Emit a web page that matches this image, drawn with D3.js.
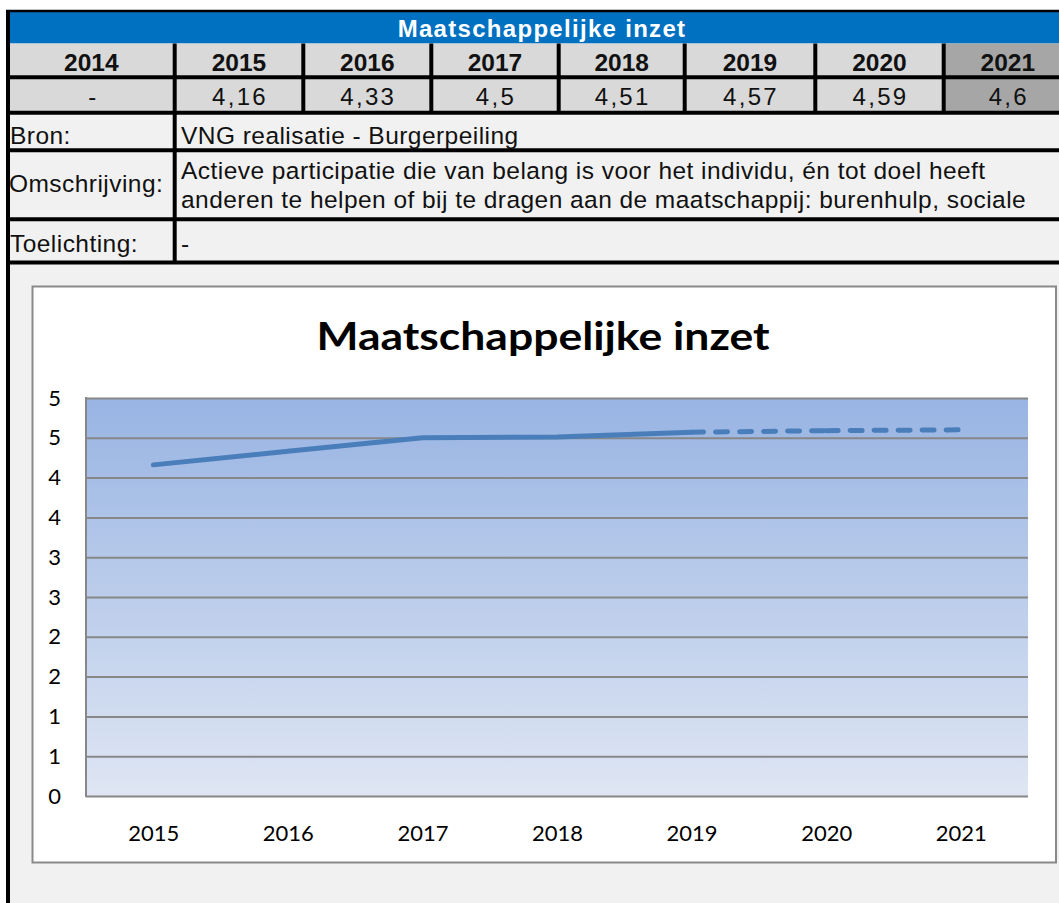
<!DOCTYPE html>
<html><head><meta charset="utf-8">
<script src="https://cdn.jsdelivr.net/npm/d3@7"></script>
<style>
  html,body{margin:0;padding:0;background:#fff;}
  svg{display:block;}
</style>
</head><body>
<svg id="c" width="1059" height="903"></svg>
<script>
// ---------- data ----------
const tableTitle = "Maatschappelijke inzet";
const chartTitle = "Maatschappelijke inzet";
const tableYears = [2014, 2015, 2016, 2017, 2018, 2019, 2020, 2021];
const tableValues = [null, 4.16, 4.33, 4.5, 4.51, 4.57, 4.59, 4.6];
const infoLabels = ["Bron:", "Omschrijving:", "Toelichting:"];
const bronText = "VNG realisatie - Burgerpeiling";
const omschrijvingLines = [
  "Actieve participatie die van belang is voor het individu, én tot doel heeft",
  "anderen te helpen of bij te dragen aan de maatschappij: burenhulp, sociale"
];
const toelichtingText = "-";
const chartYears = [2015, 2016, 2017, 2018, 2019, 2020, 2021];
const chartValues = [4.16, 4.33, 4.5, 4.51, 4.57, 4.59, 4.6];
const dashedFromYear = 2019;
const yTickValues = [0, 0.5, 1, 1.5, 2, 2.5, 3, 3.5, 4, 4.5, 5];
const yTickLabels = ["0", "1", "1", "2", "2", "3", "3", "4", "4", "5", "5"];

// ---------- drawing ----------
const svg = d3.select("#c");
const W = 1059, H = 903;
const tableFont = "'Liberation Sans', Arial, sans-serif";
const chartFont = "Lato, 'Open Sans', sans-serif";

svg.append("rect").attr("x", 0).attr("y", 0).attr("width", W).attr("height", H).attr("fill", "#ffffff");
svg.append("rect").attr("x", 8).attr("y", 11).attr("width", W).attr("height", H).attr("fill", "#f1f1f1");

// table columns (layout)
const colEdges = [8, 174.7, 303.3, 431.3, 558.7, 684.7, 815.3, 943.7, 1072];
const colX = d3.scaleOrdinal().domain(tableYears).range(colEdges.slice(0, -1));
const colW = y => colEdges[tableYears.indexOf(y) + 1] - colEdges[tableYears.indexOf(y)];

// header
svg.append("rect").attr("x", 8).attr("y", 11).attr("width", W).attr("height", 32.5).attr("fill", "#0070c0");
svg.append("text").attr("x", 542).attr("y", 36.5).attr("text-anchor", "middle")
  .attr("font-family", tableFont).attr("font-weight", "bold").attr("font-size", 24)
  .attr("letter-spacing", 1.3).attr("fill", "#ffffff").text(tableTitle);

// years row + values row
const rows = svg.append("g");
tableYears.forEach((yr, i) => {
  const x0 = colX(yr), w = colW(yr);
  const fill = i === tableYears.length - 1 ? "#a6a6a6" : "#d9d9d9";
  rows.append("rect").attr("x", x0).attr("y", 43.5).attr("width", w).attr("height", 69.3).attr("fill", fill);
  rows.append("text").attr("x", x0 + w / 2).attr("y", 70.7).attr("text-anchor", "middle")
    .attr("font-family", tableFont).attr("font-weight", "bold").attr("font-size", 24.5)
    .attr("fill", "#111").text(yr);
  const v = tableValues[i];
  rows.append("text").attr("x", x0 + w / 2 + 1).attr("y", 105).attr("text-anchor", "middle")
    .attr("font-family", tableFont).attr("font-size", 24).attr("letter-spacing", v == null ? 0 : 2.3)
    .attr("fill", "#111").text(v == null ? "-" : String(v).replace(".", ","));
});

// info rows text
const info = svg.append("g").attr("font-family", tableFont).attr("font-size", 24.5)
  .attr("letter-spacing", 0.45).attr("fill", "#111");
info.append("text").attr("x", 10).attr("y", 144).text(infoLabels[0]);
info.append("text").attr("x", 9).attr("y", 192).text(infoLabels[1]);
info.append("text").attr("x", 10).attr("y", 252).text(infoLabels[2]);
info.append("text").attr("x", 181).attr("y", 144).text(bronText);
info.append("text").attr("x", 181).attr("y", 179).text(omschrijvingLines[0]);
info.append("text").attr("x", 181).attr("y", 208).text(omschrijvingLines[1]);
info.append("text").attr("x", 181).attr("y", 252).text(toelichtingText);

// grid lines of the table
const lines = svg.append("g").attr("stroke", "#000");
lines.append("line").attr("x1", 6).attr("x2", W).attr("y1", 11).attr("y2", 11).attr("stroke-width", 2.5);
[77.2, 112.8, 150.3, 219.3, 262.5].forEach(y => {
  lines.append("line").attr("x1", 6).attr("x2", W).attr("y1", y).attr("y2", y).attr("stroke-width", 4);
});
colEdges.slice(1, -1).forEach(x => {
  lines.append("line").attr("x1", x).attr("x2", x).attr("y1", 43.5).attr("y2", 113).attr("stroke-width", 4);
});
lines.append("line").attr("x1", colEdges[1]).attr("x2", colEdges[1]).attr("y1", 112).attr("y2", 263).attr("stroke-width", 4);
lines.append("line").attr("x1", 8).attr("x2", 8).attr("y1", 10).attr("y2", H).attr("stroke-width", 4);

// ---------- chart ----------
svg.append("rect").attr("x", 32.5).attr("y", 286.5).attr("width", 1023.5).attr("height", 576)
  .attr("fill", "#ffffff").attr("stroke", "#898989").attr("stroke-width", 2);

svg.append("text").attr("x", 543).attr("y", 350).attr("text-anchor", "middle")
  .attr("font-family", chartFont).attr("font-weight", "bold").attr("font-size", 39)
  .attr("textLength", 453).attr("lengthAdjust", "spacingAndGlyphs")
  .attr("fill", "#000").text(chartTitle);

const plot = {l: 86, r: 1028, t: 398, b: 796};
const x = d3.scalePoint().domain(chartYears).range([plot.l, plot.r]).padding(0.5);
const y = d3.scaleLinear().domain([0, 5]).range([plot.b, plot.t]);

const defs = svg.append("defs");
const grad = defs.append("linearGradient").attr("id", "pg").attr("x1", 0).attr("y1", 0).attr("x2", 0).attr("y2", 1);
grad.append("stop").attr("offset", "0%").attr("stop-color", "#98b4e3");
grad.append("stop").attr("offset", "100%").attr("stop-color", "#dfe6f3");

svg.append("rect").attr("x", plot.l).attr("y", plot.t).attr("width", plot.r - plot.l).attr("height", plot.b - plot.t)
  .attr("fill", "url(#pg)");

// gridlines
const grid = svg.append("g").attr("transform", `translate(${plot.l},0)`)
  .call(d3.axisLeft(y).tickValues(yTickValues).tickSize(-(plot.r - plot.l)).tickFormat(""));
grid.select(".domain").remove();
grid.selectAll(".tick line").attr("stroke", "#878787").attr("stroke-width", 2);

// left axis line
svg.append("line").attr("x1", plot.l).attr("x2", plot.l).attr("y1", plot.t - 1).attr("y2", plot.b + 1)
  .attr("stroke", "#878787").attr("stroke-width", 2);

// y labels
const yAx = svg.append("g").attr("transform", `translate(61,0)`)
  .call(d3.axisLeft(y).tickValues(yTickValues).tickSize(0).tickPadding(0)
    .tickFormat((d, i) => yTickLabels[i]));
yAx.select(".domain").remove();
yAx.selectAll("text").attr("font-family", chartFont).attr("font-size", 22).attr("fill", "#000");

// x labels
const xAx = svg.append("g").attr("transform", `translate(0,${plot.b})`)
  .call(d3.axisBottom(x).tickSize(0).tickPadding(29));
xAx.select(".domain").remove();
xAx.selectAll("text").attr("font-family", chartFont).attr("font-size", 22).attr("fill", "#000");

// line series
const pts = chartYears.map((yr, i) => ({yr, v: chartValues[i]}));
const solid = pts.filter(p => p.yr <= dashedFromYear);
const lineGen = d3.line().x(p => x(p.yr)).y(p => y(p.v));
svg.append("path").attr("d", lineGen(solid)).attr("fill", "none")
  .attr("stroke", "#4a7ebb").attr("stroke-width", 5).attr("stroke-linecap", "round").attr("stroke-linejoin", "round");
const dashed = pts.filter(p => p.yr >= dashedFromYear);
for (let i = 0; i < dashed.length - 1; i++) {
  svg.append("path").attr("d", lineGen([dashed[i], dashed[i + 1]])).attr("fill", "none")
    .attr("stroke", "#4a7ebb").attr("stroke-width", 5).attr("stroke-linecap", "round")
    .attr("stroke-dasharray", "12,12");
}
</script>
</body></html>
